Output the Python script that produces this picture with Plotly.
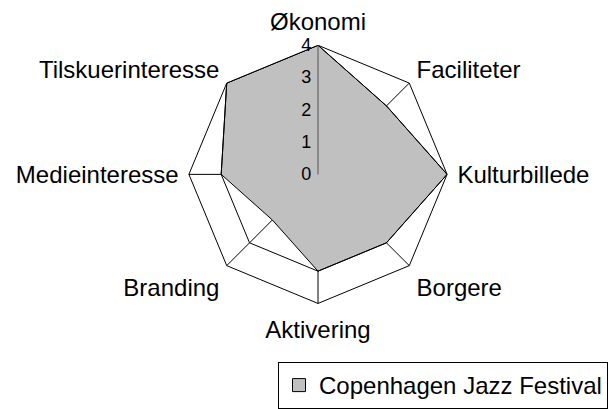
import plotly.graph_objects as go

categories = ["Økonomi", "Faciliteter", "Kulturbillede", "Borgere",
              "Aktivering", "Branding", "Medieinteresse", "Tilskuerinteresse"]
fill_values = [4, 3, 4, 3, 3, 2, 3, 4]
line_values = [4, 3, 4, 3, 3, 3, 3, 4]
radial_ticks = [0, 1, 2, 3, 4]
series_name = "Copenhagen Jazz Festival"

W, H = 609, 409
cx, cy, R = 318, 181, 134

theta_closed = categories + categories[:1]

fig = go.Figure()
fig.add_trace(go.Scatterpolar(
    r=fill_values + fill_values[:1], theta=theta_closed,
    mode="lines", fill="toself", fillcolor="#C0C0C0",
    line=dict(color="black", width=1), showlegend=False, name=series_name,
))
fig.add_trace(go.Scatterpolar(
    r=line_values + line_values[:1], theta=theta_closed,
    mode="lines", line=dict(color="black", width=1), showlegend=False,
    name=series_name,
))
# legend entry
fig.add_trace(go.Scatterpolar(
    r=[None], theta=[None], mode="markers", name=series_name,
    marker=dict(symbol="square", size=13, color="#C0C0C0",
                line=dict(color="black", width=1)),
))

font = "Arial, 'Liberation Sans', sans-serif"
fig.update_layout(
    width=W, height=H, autosize=False,
    margin=dict(l=0, r=0, t=0, b=0),
    paper_bgcolor="white", plot_bgcolor="white",
    font=dict(family=font, size=24, color="black"),
    polar=dict(
        domain=dict(x=[(cx - R) / W, (cx + R) / W],
                    y=[(H - cy - R) / H, (H - cy + R) / H]),
        bgcolor="white",
        gridshape="linear",
        radialaxis=dict(range=[0, 4], tickvals=radial_ticks,
                        ticktext=[str(v) for v in radial_ticks],
                        showgrid=False, showline=True, linecolor="#555555",
                        linewidth=1, ticks="", angle=90, tickangle=90,
                        side="counterclockwise",
                        tickfont=dict(size=18, family=font, color="black")),
        angularaxis=dict(categoryarray=categories, categoryorder="array",
                         rotation=90, direction="clockwise",
                         showgrid=True, gridcolor="black", gridwidth=1,
                         showline=True, linecolor="black", linewidth=1,
                         ticks="outside", ticklen=5, tickcolor="rgba(0,0,0,0)",
                         tickfont=dict(size=24, family=font, color="black")),
    ),
    legend=dict(x=278 / W, y=(H - 376) / H, xanchor="left", yanchor="top",
                bordercolor="black", borderwidth=1, bgcolor="white",
                font=dict(size=24, family=font, color="black")),
)
fig.write_html("out.html", config={"displayModeBar": False},
               post_script="document.body.style.margin='0px';document.body.style.overflow='hidden';")
